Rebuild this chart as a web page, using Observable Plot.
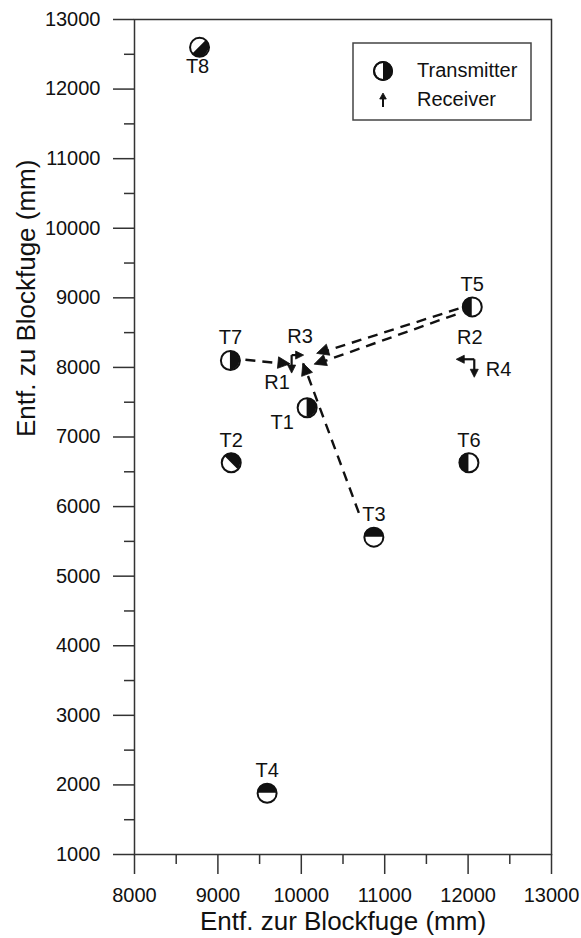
<!DOCTYPE html>
<html>
<head>
<meta charset="utf-8">
<script src="https://cdn.jsdelivr.net/npm/d3@7"></script>
<script src="https://cdn.jsdelivr.net/npm/@observablehq/plot@0.6"></script>
<style>
  html, body { margin: 0; padding: 0; background: #fff; }
  #chart svg { display: block; }
</style>
</head>
<body>
<div id="chart"></div>
<script>
// ---------- data ----------
const transmitterNames  = ["T1", "T2", "T3", "T4", "T5", "T6", "T7", "T8"];
const transmitterX      = [10070, 9160, 10870, 9590, 12050, 12010, 9150, 8780];
const transmitterY      = [7420, 6630, 5560, 1880, 8870, 6630, 8100, 12600];
// direction the filled half faces (degrees clockwise from north)
const transmitterFacing = [90, 45, 0, 0, 270, 270, 90, 135];
const transmitterLabelPlace = ["belowLeft", "above", "above", "above", "above", "above", "above", "below"];

const receiverNames     = ["R1", "R2", "R3", "R4"];
const receiverX         = [9890, 12080, 9890, 12080];
const receiverY         = [8170, 8110, 8170, 8110];
// arrow direction (degrees clockwise from north)
const receiverDirection = [180, 270, 90, 180];
const receiverLabelPlace = ["r1", "r2", "r3", "r4"];

const raySource = ["T7", "T3", "T5", "T5"];
const rayStartX = [9330, 10690, 11885, 11850];
const rayStartY = [8110, 5910, 8845, 8760];
const rayEndX   = [9870, 10025, 10190, 10160];
const rayEndY   = [8045, 8055, 8195, 8040];

const xTicks      = [8000, 9000, 10000, 11000, 12000, 13000];
const xMinorTicks = [8500, 9500, 10500, 11500, 12500];
const yTicks      = [1000, 2000, 3000, 4000, 5000, 6000, 7000, 8000, 9000, 10000, 11000, 12000, 13000];
const yMinorTicks = [1500, 2500, 3500, 4500, 5500, 6500, 7500, 8500, 9500, 10500, 11500, 12500];

const xLabel = "Entf. zur Blockfuge (mm)";
const yLabel = "Entf. zu Blockfuge (mm)";
const legendLabels = ["Transmitter", "Receiver"];

// ---------- tables ----------
const transmitters = transmitterNames.map((name, i) => ({
  name, x: transmitterX[i], y: transmitterY[i], facing: transmitterFacing[i], place: transmitterLabelPlace[i]
}));
const receivers = receiverNames.map((name, i) => ({
  name, x: receiverX[i], y: receiverY[i], dir: receiverDirection[i], place: receiverLabelPlace[i]
}));
const rays = raySource.map((src, i) => ({
  src, x1: rayStartX[i], y1: rayStartY[i], x2: rayEndX[i], y2: rayEndY[i]
}));

// ---------- styling ----------
const FONT = "'Liberation Sans', Arial, Helvetica, sans-serif";
const INK = "#111";
const AXIS = "#333";
const R = 9.5;

const labelPlaces = {
  above:     {dx: 0,   dy: -16, textAnchor: "middle"},
  below:     {dx: -2,  dy: 26,  textAnchor: "middle"},
  belowLeft: {dx: -25, dy: 21,  textAnchor: "middle"},
  r1:        {dx: -15, dy: 33,  textAnchor: "middle"},
  r2:        {dx: -5,  dy: -16, textAnchor: "middle"},
  r3:        {dx: 8,   dy: -13, textAnchor: "middle"},
  r4:        {dx: 11,  dy: 16,  textAnchor: "start"}
};

function labelMarks(data) {
  const places = [...new Set(data.map(d => d.place))];
  return places.map(p => Plot.text(data.filter(d => d.place === p), {
    x: "x", y: "y", text: "name",
    dx: labelPlaces[p].dx, dy: labelPlaces[p].dy,
    textAnchor: labelPlaces[p].textAnchor,
    lineAnchor: "bottom", fontSize: 20, fill: INK
  }));
}

function head(g, tx, ty, ux, uy, L, W) {
  const bx = tx - ux * L, by = ty - uy * L;
  const px = -uy, py = ux;
  g.append("path")
    .attr("d", `M${tx},${ty}L${bx + px * W},${by + py * W}L${bx - px * W},${by - py * W}Z`)
    .attr("fill", INK).attr("stroke", INK).attr("stroke-width", 0.8).attr("stroke-linejoin", "round");
}

function arrow(g, x0, y0, ux, uy, len, L, W, sw) {
  const tx = x0 + ux * len, ty = y0 + uy * len;
  g.append("line")
    .attr("x1", x0).attr("y1", y0)
    .attr("x2", tx - ux * (L - 1)).attr("y2", ty - uy * (L - 1))
    .attr("stroke", INK).attr("stroke-width", sw);
  head(g, tx, ty, ux, uy, L, W);
}

// half-filled discs of the transmitters
function halfDiscs(index, scales) {
  const g = d3.create("svg:g");
  for (const t of transmitters) {
    const a = t.facing * Math.PI / 180;
    g.append("path")
      .attr("transform", `translate(${scales.x(t.x)},${scales.y(t.y)})`)
      .attr("d", d3.arc()({innerRadius: 0, outerRadius: R, startAngle: a - Math.PI / 2, endAngle: a + Math.PI / 2}))
      .attr("fill", INK);
  }
  return g.node();
}

// arrowheads of the rays and receiver arrows
function arrows(index, scales) {
  const g = d3.create("svg:g");
  for (const r of rays) {
    const sx = scales.x(r.x1), sy = scales.y(r.y1);
    const tx = scales.x(r.x2), ty = scales.y(r.y2);
    const len = Math.hypot(tx - sx, ty - sy);
    head(g, tx, ty, (tx - sx) / len, (ty - sy) / len, 12, 5.8);
  }
  for (const r of receivers) {
    const a = r.dir * Math.PI / 180;
    const len = r.name === "R3" ? 12 : 18;
    arrow(g, scales.x(r.x), scales.y(r.y), Math.sin(a), -Math.cos(a), len, 8, 4, 2.2);
  }
  return g.node();
}

// legend box (top right, inside the frame)
function legend(index, scales, values, dimensions) {
  const right = dimensions.width - dimensions.marginRight;
  const top = dimensions.marginTop;
  const g = d3.create("svg:g");
  g.append("rect")
    .attr("x", right - 198).attr("y", top + 24)
    .attr("width", 178).attr("height", 77)
    .attr("fill", "#fff").attr("stroke", "#444").attr("stroke-width", 1.5);
  const cx = right - 168, cy = top + 52;
  g.append("circle").attr("cx", cx).attr("cy", cy).attr("r", 9)
    .attr("fill", "#fff").attr("stroke", INK).attr("stroke-width", 2);
  g.append("path").attr("transform", `translate(${cx},${cy})`)
    .attr("d", d3.arc()({innerRadius: 0, outerRadius: 9, startAngle: 0, endAngle: Math.PI}))
    .attr("fill", INK);
  g.append("circle").attr("cx", cx).attr("cy", cy).attr("r", 9)
    .attr("fill", "none").attr("stroke", INK).attr("stroke-width", 2);
  arrow(g, cx, top + 88, 0, -1, 14, 6, 3.3, 2);
  const tx = right - 134;
  g.append("text").attr("x", tx).attr("y", top + 58).attr("font-size", 20)
    .attr("text-anchor", "start").attr("fill", INK).text(legendLabels[0]);
  g.append("text").attr("x", tx).attr("y", top + 87).attr("font-size", 20)
    .attr("text-anchor", "start").attr("fill", INK).text(legendLabels[1]);
  return g.node();
}

const chart = Plot.plot({
  width: 581,
  height: 938,
  marginLeft: 134,
  marginRight: 30,
  marginTop: 19,
  marginBottom: 84,
  style: {fontFamily: FONT, fontSize: "20px", color: INK, background: "#fff"},
  x: {domain: [8000, 13000]},
  y: {domain: [1000, 13000]},
  marks: [
    Plot.axisX({ticks: xTicks, tickSize: 20, tickPadding: 13, tickFormat: d => `${d}`, fontSize: 20, label: null, stroke: AXIS, strokeWidth: 1.5, fill: INK}),
    Plot.axisX({ticks: xMinorTicks, tickSize: 10, tickFormat: () => "", label: null, stroke: AXIS, strokeWidth: 1.5}),
    Plot.axisY({ticks: yTicks, tickSize: 21, tickPadding: 13, tickFormat: d => `${d}`, fontSize: 20, label: null, stroke: AXIS, strokeWidth: 1.5, fill: INK}),
    Plot.axisY({ticks: yMinorTicks, tickSize: 10, tickFormat: () => "", label: null, stroke: AXIS, strokeWidth: 1.5}),
    Plot.frame({stroke: AXIS, strokeWidth: 1.5}),
    Plot.text([xLabel], {text: d => d, frameAnchor: "bottom", dy: 75, lineAnchor: "bottom", fontSize: 26, fill: INK}),
    Plot.text([yLabel], {text: d => d, frameAnchor: "left", dx: -108, rotate: -90, lineAnchor: "middle", fontSize: 26, fill: INK}),
    Plot.link(rays, {x1: "x1", y1: "y1", x2: "x2", y2: "y2", stroke: INK, strokeWidth: 2.4, strokeDasharray: "10,7"}),
    Plot.dot(transmitters, {x: "x", y: "y", r: R, fill: "#fff", stroke: "none"}),
    halfDiscs,
    Plot.dot(transmitters, {x: "x", y: "y", r: R, fill: "none", stroke: INK, strokeWidth: 2}),
    arrows,
    ...labelMarks(transmitters),
    ...labelMarks(receivers),
    legend
  ]
});

document.getElementById("chart").append(chart);
</script>
</body>
</html>
